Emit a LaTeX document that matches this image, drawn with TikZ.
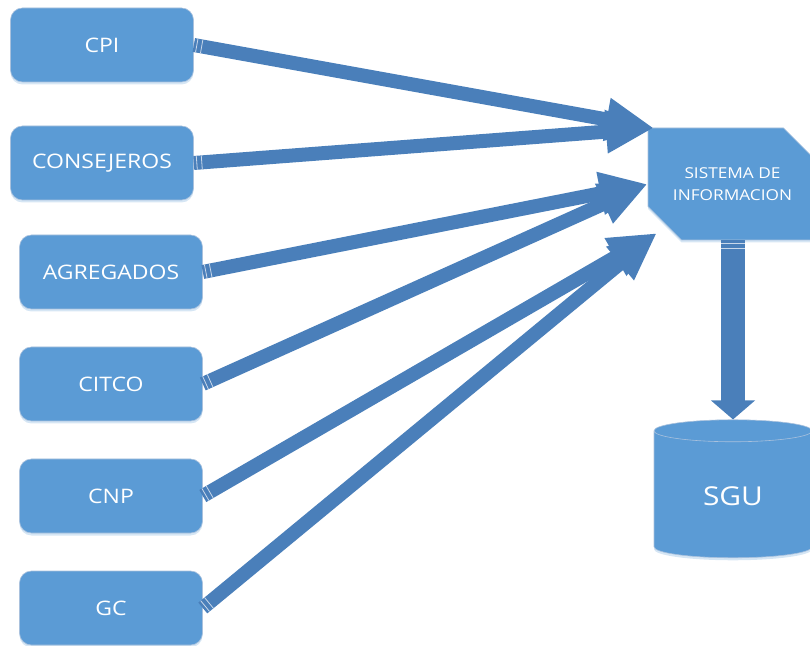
\documentclass[tikz,border=0pt]{standalone}
\usepackage{fontspec}
\setmainfont{Open Sans}[FakeStretch=1.15]
\usepackage{xcolor}
\usepackage{tikz}
\usetikzlibrary{arrows.meta,shapes.geometric,shapes.misc,decorations.markings,shadows}

\definecolor{boxblue}{HTML}{5B9BD5}
\definecolor{arrowblue}{HTML}{4A7FBA}
\definecolor{boxline}{HTML}{A9C1DD}

\begin{document}
\begin{tikzpicture}[x=1pt, y=1pt,
    source/.style={rectangle, rounded corners=12pt, fill=boxblue, draw=boxline, line width=0.6pt,
        minimum width=183pt, minimum height=74pt, text=white, font=\fontsize{20}{24}\selectfont,
        drop shadow={shadow xshift=0pt, shadow yshift=-2.5pt, fill=boxblue!50, opacity=0.5}},
    stripes/.style={postaction={decorate}, decoration={markings,
        mark=at position 3pt with {\draw[-, white!70!arrowblue, line width=0.8pt] (0,-#1) -- (0,#1);},
        mark=at position 8pt with {\draw[-, white!70!arrowblue, line width=0.8pt] (0,-#1) -- (0,#1);}}},
    feed/.style={draw=arrowblue, line width=14pt, -{Triangle[length=48pt, width=40pt]}, stripes=7pt},
]
    \clip (0,0) rectangle (810,645);

    % Sources
    \node[source] (cpi) at (102,600) {CPI};
    \node[source] (consejeros) at (102,482) {CONSEJEROS};
    \node[source] (agregados) at (111,373) {AGREGADOS};
    \node[source] (citco) at (111,261) {CITCO};
    \node[source] (cnp) at (111,149) {CNP};
    \node[source] (gc) at (111,37) {GC};

    % Information system
    \node[chamfered rectangle, chamfered rectangle corners={north east, south west},
        chamfered rectangle xsep=17pt, chamfered rectangle ysep=17pt,
        minimum width=169pt, minimum height=112pt, inner sep=0pt,
        fill=boxblue, draw=boxline, line width=0.6pt, text=white, align=center,
        font=\fontsize{15}{22}\selectfont,
        drop shadow={shadow xshift=0pt, shadow yshift=-2.5pt, fill=boxblue!50, opacity=0.5}]
        (sis) at (732.5,461) {SISTEMA DE\\INFORMACION};

    % Database
    \node[cylinder, shape border rotate=90, aspect=0.33, minimum width=158pt, minimum height=138pt,
        fill=boxblue, draw=boxline, line width=0.6pt, text=white, font=\fontsize{26}{30}\selectfont,
        drop shadow={shadow xshift=0pt, shadow yshift=-2.5pt, fill=boxblue!50, opacity=0.5}]
        (sgu) at (733,149) {SGU};

    \coordinate (inTop) at (654,517);
    \coordinate (inBot) at (657,412);

    % Feeds into the system
    \draw[feed] (cpi.east) -- (inTop);
    \draw[feed] (consejeros.east) -- (inTop);
    \draw[feed] (agregados.east) -- (sis.west);
    \draw[feed] (citco.east) -- (sis.west);
    \draw[feed] (cnp.east) -- (inBot);
    \draw[feed] (gc.east) -- (inBot);

    % Down to the database
    \draw[draw=arrowblue, line width=24pt, -{Triangle[length=19pt, width=43pt]}, stripes=12pt]
        (sis.south -| sgu.north) -- (sgu.north);
\end{tikzpicture}
\end{document}
